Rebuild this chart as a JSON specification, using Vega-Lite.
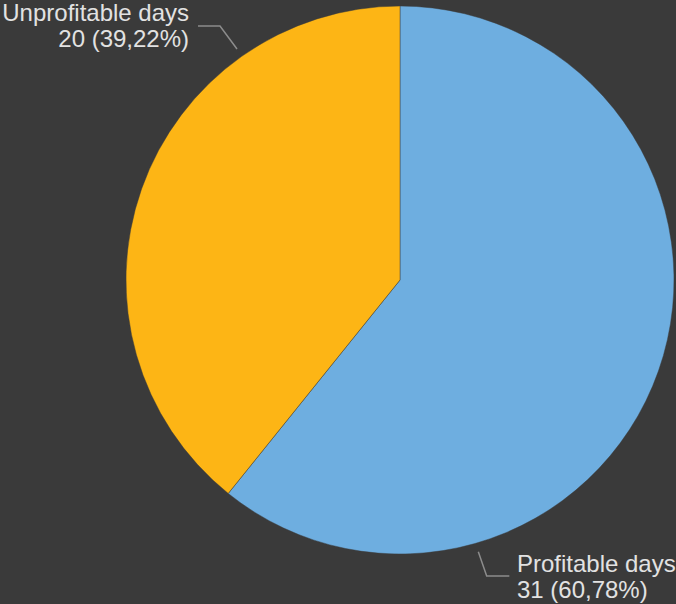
{
  "$schema": "https://vega.github.io/schema/vega-lite/v6.json",
  "width": 548,
  "height": 548,
  "padding": {"left": 126, "top": 6, "right": 2, "bottom": 50},
  "autosize": {"type": "none"},
  "background": "#3a3a3a",
  "config": {"view": {"stroke": null}},
  "data": {
    "values": [
      {"category": "Profitable days", "days": 31, "label": ["Profitable days", "31 (60,78%)"]},
      {"category": "Unprofitable days", "days": 20, "label": ["Unprofitable days", "20 (39,22%)"]}
    ]
  },
  "layer": [
    {
      "mark": {"type": "arc", "stroke": "#3a3a3a", "strokeOpacity": 0.45, "strokeWidth": 1},
      "encoding": {
        "theta": {"field": "days", "type": "quantitative", "stack": true},
        "order": {"field": "category", "type": "nominal", "sort": "ascending"},
        "color": {
          "field": "category",
          "type": "nominal",
          "scale": {"domain": ["Profitable days", "Unprofitable days"], "range": ["#6eaee0", "#fdb515"]},
          "legend": null
        }
      }
    },
    {
      "mark": {
        "type": "text",
        "radius": 300,
        "font": "Liberation Sans",
        "fontSize": 24,
        "lineHeight": 26,
        "fill": "#e2e2e2",
        "baseline": "alphabetic",
        "align": {"expr": "datum.category == 'Profitable days' ? 'left' : 'right'"},
        "dx": {"expr": "datum.category == 'Profitable days' ? -166 : 72"},
        "dy": {"expr": "datum.category == 'Profitable days' ? 192 : -159"}
      },
      "encoding": {
        "theta": {"field": "days", "type": "quantitative", "stack": true},
        "order": {"field": "category", "type": "nominal", "sort": "ascending"},
        "detail": {"field": "category", "type": "nominal"},
        "text": {"field": "label"}
      }
    },
    {
      "mark": {"type": "point", "filled": false, "size": 360000, "stroke": "#8c8c8c", "strokeWidth": 1.5, "opacity": 1},
      "encoding": {
        "shape": {
          "field": "category",
          "type": "nominal",
          "scale": {
            "domain": ["Profitable days", "Unprofitable days"],
            "range": ["M0.261,0.9056L0.289,0.9867L0.3644,0.9867", "M-0.5433,-0.77L-0.6,-0.8467L-0.6733,-0.8467"]
          },
          "legend": null
        }
      }
    }
  ]
}
